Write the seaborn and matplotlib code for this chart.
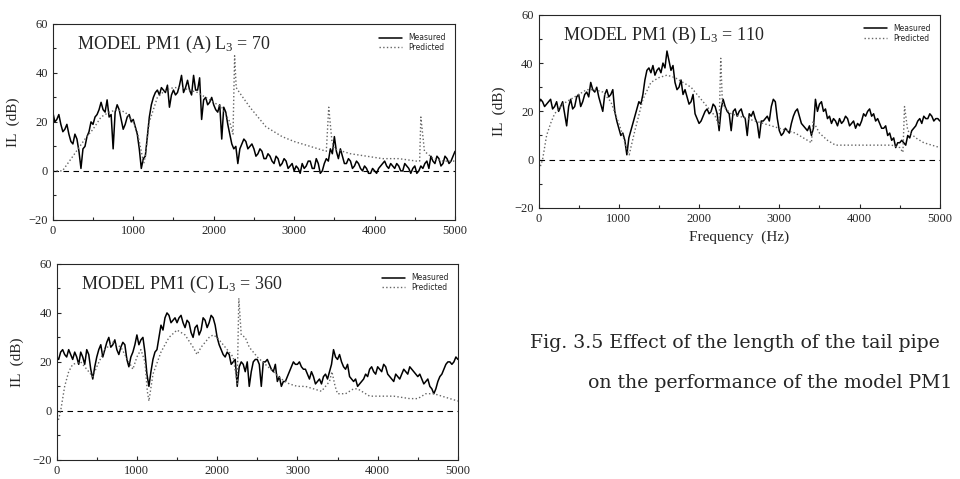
import numpy as np
import pandas as pd
import matplotlib
matplotlib.use("Agg")
import matplotlib.pyplot as plt
import seaborn as sns

# measured IL read every 50 Hz (0..5000) plus the in-between samples (25..4975)
freq = np.arange(0, 5001, 50)
freq_mid = np.arange(25, 5000, 50)

meas_a = [24, 21, 19, 17, 15, 11, 13, 1, 10, 16,
          19, 23, 28, 24, 22, 9, 27, 21, 19, 23,
          21, 15, 1, 6, 22, 30, 33, 34, 32, 26,
          33, 32, 39, 34, 33, 39, 33, 21, 30, 28,
          27, 24, 13, 24, 15, 9, 3, 11, 12, 10,
          9, 7, 8, 5, 6, 3, 5, 3, 4, 2,
          0, 1, 3, 2, 4, 1, 3, 0, 5, 9,
          14, 5, 6, 3, 4, 2, 3, 0, 1, -1,
          0, 1, 3, 2, 3, 1, 2, 0, 2, -1,
          2, 0, 1, 4, 6, 3, 5, 3, 5, 4,
          8]
mid_a = [20, 23, 16, 19, 12, 15, 8, 9, 14, 20,
         22, 25, 25, 29, 23, 24, 25, 17, 22, 20,
         18, 9, 5, 14, 27, 32, 31, 33, 35, 31,
         31, 35, 32, 37, 31, 33, 38, 29, 27, 30,
         25, 27, 26, 19, 11, 10, 9, 13, 9, 11,
         6, 9, 5, 7, 4, 6, 2, 5, 1, 3,
         2, -1, 1, 4, 1, 5, -1, 3, 4, 7,
         8, 9, 3, 5, 1, 4, 1, 2, -1, 1,
         -1, 2, 4, 1, 2, 3, 0, 3, 1, 1,
         -1, 2, 3, 1, 4, 6, 2, 6, 3, 6]

meas_b = [23, 24, 23, 25, 22, 20, 24, 14, 25, 22,
          27, 24, 28, 32, 28, 26, 20, 29, 27, 20,
          13, 11, 2, 12, 18, 24, 27, 37, 36, 35,
          38, 40, 45, 37, 32, 30, 27, 26, 24, 19,
          15, 18, 21, 20, 22, 12, 25, 20, 12, 21,
          20, 18, 10, 18, 17, 9, 16, 18, 22, 24,
          12, 11, 12, 15, 20, 18, 14, 12, 10, 25,
          23, 20, 17, 15, 16, 17, 16, 17, 15, 13,
          14, 19, 20, 18, 16, 15, 13, 10, 8, 5,
          7, 7, 10, 12, 14, 17, 18, 17, 18, 17,
          16]
mid_b = [25, 22, 24, 21, 24, 22, 19, 22, 21, 26,
         22, 27, 26, 29, 30, 23, 27, 26, 29, 16,
         10, 8, 9, 15, 21, 23, 33, 38, 39, 37,
         36, 38, 41, 39, 29, 33, 29, 23, 27, 17,
         16, 20, 19, 23, 19, 21, 22, 19, 20, 18,
         21, 17, 19, 20, 15, 16, 17, 16, 25, 17,
         10, 13, 11, 18, 21, 15, 13, 14, 13, 20,
         24, 21, 18, 17, 14, 15, 18, 14, 16, 15,
         16, 18, 21, 19, 17, 13, 14, 11, 9, 7,
         8, 6, 9, 13, 16, 15, 17, 19, 16, 17]

meas_c = [22, 24, 23, 25, 21, 22, 24, 19, 23, 13,
          22, 27, 25, 30, 27, 25, 26, 27, 18, 24,
          31, 29, 24, 10, 21, 25, 35, 38, 39, 37,
          36, 39, 34, 36, 30, 35, 33, 37, 36, 38,
          30, 25, 22, 23, 20, 10, 20, 16, 10, 20,
          21, 10, 20, 19, 16, 12, 10, 12, 16, 20,
          19, 18, 17, 13, 14, 12, 11, 15, 16, 25,
          21, 20, 17, 14, 12, 10, 12, 15, 17, 16,
          18, 16, 18, 14, 12, 14, 15, 16, 18, 16,
          14, 13, 12, 10, 7, 12, 15, 19, 20, 20,
          21]
mid_c = [21, 25, 22, 23, 24, 19, 22, 25, 17, 18,
         25, 22, 28, 26, 29, 23, 28, 21, 22, 27,
         27, 30, 15, 16, 24, 30, 33, 40, 36, 38,
         38, 36, 37, 32, 34, 31, 38, 34, 39, 35,
         27, 23, 24, 19, 21, 18, 19, 20, 16, 21,
         19, 20, 21, 17, 19, 14, 12, 14, 18, 19,
         20, 17, 15, 16, 11, 13, 14, 13, 19, 22,
         23, 18, 19, 13, 13, 11, 13, 14, 18, 15,
         17, 19, 15, 13, 15, 13, 17, 15, 17, 15,
         15, 11, 13, 9, 9, 14, 17, 20, 19, 22]

# predicted IL (smooth curves)
pred_a_f = [0, 120, 250, 400, 500, 600, 700, 800, 900, 1000, 1050, 1100, 1130, 1150,
            1200, 1300, 1400, 1500, 1600, 1700, 1800, 1900, 2000, 2100, 2200, 2240,
            2260, 2280, 2320, 2450, 2650, 2850, 3000, 3200, 3400, 3430, 3470, 3500,
            3700, 3900, 4100, 4300, 4520, 4560, 4575, 4620, 4730, 4850, 5000]
pred_a = [0, 0, 6, 13, 17, 22, 24, 25, 24, 20, 16, 8, 3, 6,
          20, 30, 33, 34, 34, 33, 32, 30, 28, 26, 20, 15,
          47, 34, 32, 26, 18, 14, 12, 10, 8, 26, 12, 9,
          7, 6, 5, 5, 4, 4, 22, 8, 5, 4, 4]

pred_b_f = [0, 20, 50, 100, 150, 200, 300, 400, 500, 600, 700, 800, 900, 1000, 1050,
            1100, 1130, 1150, 1200, 1300, 1400, 1500, 1600, 1700, 1800, 1900, 2000,
            2100, 2200, 2250, 2270, 2290, 2300, 2400, 2500, 2600, 2700, 2800, 2900,
            3000, 3100, 3200, 3300, 3400, 3420, 3500, 3600, 3700, 4000, 4400, 4500,
            4540, 4560, 4600, 4700, 4800, 5000]
pred_b = [-2, -3, 0, 10, 15, 19, 23, 25, 27, 29, 29, 28, 24, 15, 10,
          4, 2, 5, 12, 25, 32, 34, 35, 34, 32, 30, 26,
          22, 18, 14, 42, 24, 22, 19, 18, 17, 16, 15, 14,
          13, 12, 11, 9, 7, 16, 11, 8, 6, 6, 6, 5,
          3, 22, 12, 9, 7, 5]

pred_c_f = [0, 20, 50, 100, 150, 200, 300, 400, 450, 500, 600, 700, 800, 900, 950,
            1000, 1050, 1100, 1130, 1150, 1200, 1300, 1400, 1500, 1600, 1700, 1750,
            1800, 1900, 1950, 2000, 2100, 2200, 2250, 2270, 2300, 2350, 2400, 2500,
            2600, 2700, 2800, 2900, 3000, 3100, 3200, 3300, 3400, 3430, 3470, 3500,
            3600, 3700, 3750, 3800, 3900, 4000, 4200, 4400, 4500, 4550, 4600, 4700,
            4800, 4900, 5000]
pred_c = [-3, -4, 0, 10, 16, 19, 20, 16, 14, 18, 25, 28, 26, 20, 17,
          22, 25, 20, 8, 4, 15, 24, 30, 33, 31, 26, 23,
          26, 30, 31, 30, 26, 22, 11, 46, 31, 30, 26, 22,
          19, 16, 13, 11, 10, 10, 9, 8, 12, 16, 10, 7,
          7, 9, 9, 8, 6, 6, 6, 5, 5, 6, 7, 7,
          6, 5, 4]

panels = [
    ("MODEL PM1 (A) L$_3$ = 70", meas_a, mid_a, pred_a_f, pred_a, [0.055, 0.541, 0.419, 0.409], False),
    ("MODEL PM1 (B) L$_3$ = 110", meas_b, mid_b, pred_b_f, pred_b, [0.561, 0.566, 0.418, 0.403], True),
    ("MODEL PM1 (C) L$_3$ = 360", meas_c, mid_c, pred_c_f, pred_c, [0.059, 0.040, 0.418, 0.409], False),
]

sns.set_style("ticks")
plt.rcParams["font.family"] = ["Liberation Serif", "DejaVu Serif"]
plt.rcParams["mathtext.default"] = "regular"

fig = plt.figure(figsize=(9.6, 4.79), dpi=100)

for title, meas, mid, pf, pv, pos, show_xlabel in panels:
    ax = fig.add_axes(pos)
    dm = pd.DataFrame({"f": np.concatenate([freq, freq_mid]),
                       "IL": list(meas) + list(mid)})
    dp = pd.DataFrame({"f": pf, "IL": pv})
    ax.axhline(0, color="black", lw=0.8, ls=(0, (5, 4)))
    sns.lineplot(data=dm, x="f", y="IL", ax=ax, color="black", lw=1.1, label="Measured")
    sns.lineplot(data=dp, x="f", y="IL", ax=ax, color="0.4", lw=1.0, ls=":", label="Predicted")
    ax.set_xlim(0, 5000)
    ax.set_ylim(-20, 60)
    ax.set_xticks([0, 1000, 2000, 3000, 4000, 5000])
    ax.set_xticks(np.arange(500, 5000, 1000), minor=True)
    ax.set_yticks([-20, 0, 20, 40, 60])
    ax.set_yticks([-10, 10, 30, 50], minor=True)
    ax.tick_params(which="both", direction="in", labelsize=9, length=3, width=0.8)
    ax.tick_params(which="minor", length=2)
    for s in ax.spines.values():
        s.set_visible(True)
        s.set_linewidth(0.8)
    ax.set_ylabel("IL  (dB)", fontsize=11, labelpad=6)
    ax.set_xlabel("Frequency  (Hz)" if show_xlabel else "", fontsize=11)
    ax.text(0.06, 0.895, title, transform=ax.transAxes, fontsize=13, va="center")
    ax.legend(loc="upper right", bbox_to_anchor=(0.99, 0.98), frameon=False,
              prop={"family": "DejaVu Sans", "size": 5.5},
              handlelength=3, borderpad=0.2, labelspacing=0.1)

fig.text(0.552, 0.273, "Fig. 3.5 Effect of the length of the tail pipe",
         fontsize=13.6, family="DejaVu Serif")
fig.text(0.612, 0.190, "on the performance of the model PM1",
         fontsize=13.6, family="DejaVu Serif")

fig.savefig("out.png", dpi=100)
